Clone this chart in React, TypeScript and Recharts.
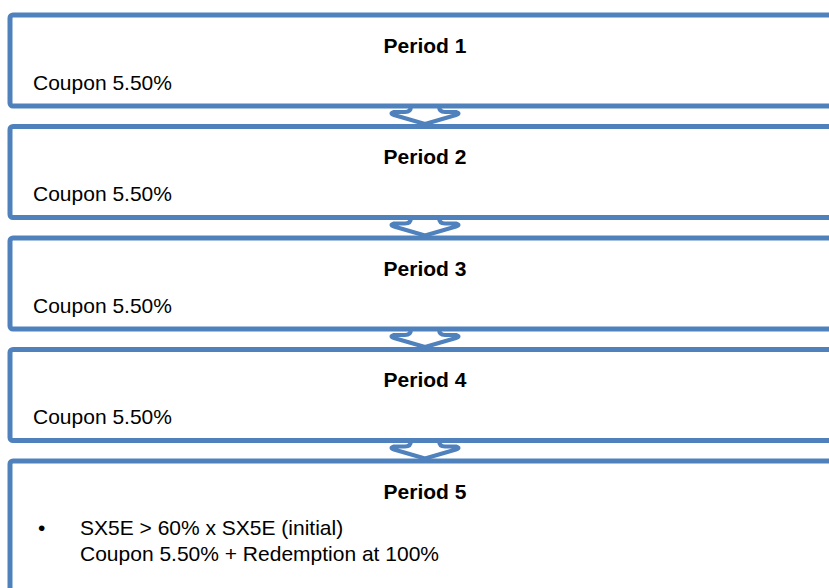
import React from "react";
import { ScatterChart, Scatter, XAxis, YAxis, ReferenceArea } from "recharts";

const periods = ["Period 1", "Period 2", "Period 3", "Period 4", "Period 5"];
const coupons = ["Coupon 5.50%", "Coupon 5.50%", "Coupon 5.50%", "Coupon 5.50%"];
const finalConditions = ["SX5E > 60% x SX5E (initial)", "Coupon 5.50% + Redemption at 100%"];

const W = 829;
const H = 588;
const BLUE = "#4F81BD";
const FONT = "'Liberation Sans', Arial, Helvetica, sans-serif";

// layout in pixel units (axes map 1:1 onto the plot)
const PITCH = 111.5;
const BOX_TOP = 15;
const BOX_H = 91;
const BOX_LEFT = 10;
const BOX_RIGHT = 840;
const CENTER_X = 425;

const boxes = periods.map((p, i) => ({
  key: p,
  y1: BOX_TOP + i * PITCH,
  y2: i === periods.length - 1 ? H + 20 : BOX_TOP + i * PITCH + BOX_H,
}));

const titleData = periods.map((p, i) => ({ x: CENTER_X, y: BOX_TOP + 30 + i * PITCH, label: p }));
const couponData = coupons.map((c, i) => ({ x: 33, y: BOX_TOP + 67 + i * PITCH, label: c }));
const lastTop = BOX_TOP + (periods.length - 1) * PITCH;
const bulletData = [{ x: 38, y: lastTop + 66, label: "\u2022" }];
const finalData = finalConditions.map((c, i) => ({ x: 80, y: lastTop + 66 + i * 26, label: c }));
const arrowData = periods.slice(1).map((_, i) => ({ x: CENTER_X, y: BOX_TOP + BOX_H + i * PITCH }));

const textShape = (anchor: "start" | "middle", bold: boolean, size = 21) => (props: any) => (
  <text
    x={props.cx}
    y={props.cy}
    textAnchor={anchor}
    dominantBaseline="central"
    fontFamily={FONT}
    fontSize={size}
    fontWeight={bold ? "bold" : "normal"}
    fill="#000"
  >
    {props.payload.label}
  </text>
);

// down arrow linking two boxes, drawn from the bottom edge of the upper box
const ArrowShape = (props: any) => {
  const cx = props.cx;
  const y = props.cy;
  const d = [
    `M ${cx - 14} ${y}`,
    `Q ${cx - 14} ${y + 6} ${cx - 20} ${y + 6}`,
    `L ${cx - 31} ${y + 6}`,
    `Q ${cx - 36} ${y + 7.5} ${cx - 31} ${y + 9}`,
    `L ${cx} ${y + 18}`,
    `L ${cx + 31} ${y + 9}`,
    `Q ${cx + 36} ${y + 7.5} ${cx + 31} ${y + 6}`,
    `L ${cx + 20} ${y + 6}`,
    `Q ${cx + 14} ${y + 6} ${cx + 14} ${y}`,
  ].join(" ");
  return <path d={d} fill="none" stroke={BLUE} strokeWidth={4} strokeLinejoin="round" />;
};

export default function App() {
  return (
    <div style={{ position: "absolute", left: 0, top: 0, width: W, height: H, background: "#fff" }}>
      <ScatterChart width={W} height={H} margin={{ top: 0, right: 0, bottom: 0, left: 0 }}>
        <XAxis type="number" dataKey="x" domain={[0, W]} hide />
        <YAxis type="number" dataKey="y" domain={[0, H]} reversed hide />
        {boxes.map((b) => (
          <ReferenceArea
            key={b.key}
            x1={BOX_LEFT}
            x2={BOX_RIGHT}
            y1={b.y1}
            y2={b.y2}
            ifOverflow="hidden"
            fill="#fff"
            fillOpacity={1}
            stroke={BLUE}
            strokeWidth={5}
            radius={3}
          />
        ))}
        <Scatter data={arrowData} shape={ArrowShape} isAnimationActive={false} />
        <Scatter data={titleData} shape={textShape("middle", true)} isAnimationActive={false} />
        <Scatter data={couponData} shape={textShape("start", false)} isAnimationActive={false} />
        <Scatter data={bulletData} shape={textShape("start", false)} isAnimationActive={false} />
        <Scatter data={finalData} shape={textShape("start", false)} isAnimationActive={false} />
      </ScatterChart>
    </div>
  );
}
